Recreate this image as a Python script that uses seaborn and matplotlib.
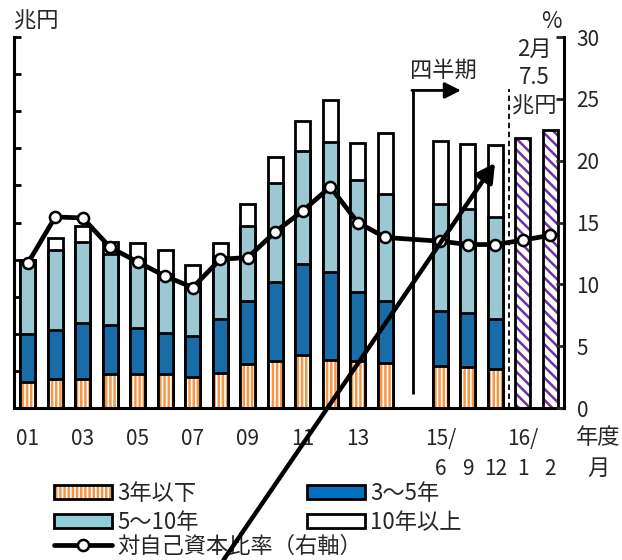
import numpy as np
import pandas as pd
import matplotlib
matplotlib.use("Agg")
import matplotlib.pyplot as plt
from matplotlib.patches import Patch, FancyArrowPatch
from matplotlib.lines import Line2D
import seaborn as sns

# ---- data (兆円 / %) ----
periods = ["01", "02", "03", "04", "05", "06", "07", "08", "09", "10",
           "11", "12", "13", "14", "gap", "15/6", "15/9", "15/12", "16/1", "16/2"]
nan = np.nan
under3y = [0.70, 0.77, 0.79, 0.93, 0.93, 0.93, 0.84, 0.94, 1.19, 1.28,
           1.42, 1.30, 1.27, 1.20, nan, 1.13, 1.11, 1.06, nan, nan]
y3to5 = [1.30, 1.32, 1.51, 1.30, 1.24, 1.10, 1.09, 1.45, 1.69, 2.12,
         2.45, 2.37, 1.86, 1.68, nan, 1.48, 1.46, 1.35, nan, nan]
y5to10 = [1.98, 2.16, 2.18, 1.93, 1.86, 1.59, 1.38, 1.68, 2.03, 2.67,
          3.06, 3.50, 3.01, 2.88, nan, 2.90, 2.79, 2.74, nan, nan]
over10y = [0.00, 0.32, 0.43, 0.31, 0.43, 0.63, 0.54, 0.39, 0.59, 0.70,
           0.81, 1.12, 1.01, 1.64, nan, 1.69, 1.75, 1.93, nan, nan]
monthly_total = [nan] * 18 + [7.28, 7.5]
equity_ratio = [11.7, 15.45, 15.37, 12.98, 11.81, 10.66, 9.74, 12.03, 12.17, 14.24,
                15.94, 17.88, 15.0, 13.79, nan, 13.49, 13.22, 13.22, 13.57, 13.97]

year_labels = ["01", "03", "05", "07", "09", "11", "13", "15/", "16/"]
year_label_pos = [0, 2, 4, 6, 8, 10, 12, 15, 18]
month_labels = ["6", "9", "12", "1", "2"]
month_label_pos = [15, 16, 17, 18, 19]

df = pd.DataFrame({"period": periods, "under3y": under3y, "y3to5": y3to5,
                   "y5to10": y5to10, "over10y": over10y,
                   "monthly": monthly_total, "ratio": equity_ratio})
df["c1"] = df["under3y"]
df["c2"] = df["c1"] + df["y3to5"]
df["c3"] = df["c2"] + df["y5to10"]
df["c4"] = df["c3"] + df["over10y"]

ORANGE = "#F79646"
DBLUE = "#0070C0"
LBLUE = "#92CDDC"
PURPLE = "#7030A0"
EDGE_LW = 2.0
ORANGE_HATCH = "||||"
PURPLE_HATCH = "\\\\\\"

sns.set_style("white")
plt.rcParams["font.family"] = ["Noto Sans CJK JP", "DejaVu Sans"]
plt.rcParams["hatch.linewidth"] = 1.8
FS = 16      # Japanese text
FSN = 15     # numeric tick labels

fig = plt.figure(figsize=(6.22, 5.6), dpi=100)
ax = fig.add_axes([0.0225, 0.2714, 0.8843, 0.6625])

bar_kw = dict(x="period", order=periods, width=0.55, errorbar=None, ax=ax)

# stacked bars: cumulative totals drawn from the top layer down
sns.barplot(data=df, y="c4", color="white", edgecolor="black", linewidth=EDGE_LW, **bar_kw)
sns.barplot(data=df, y="c3", color=LBLUE, edgecolor="black", linewidth=EDGE_LW, **bar_kw)
sns.barplot(data=df, y="c2", color=DBLUE, edgecolor="black", linewidth=EDGE_LW, **bar_kw)
sns.barplot(data=df, y="c1", facecolor="white", edgecolor=ORANGE, hatch=ORANGE_HATCH,
            linewidth=0, **bar_kw)
sns.barplot(data=df, y="c1", facecolor="none", edgecolor="black", linewidth=EDGE_LW, **bar_kw)
# monthly totals (hatched purple)
sns.barplot(data=df, y="monthly", facecolor="white", edgecolor=PURPLE, hatch=PURPLE_HATCH,
            linewidth=0, **bar_kw)
sns.barplot(data=df, y="monthly", facecolor="none", edgecolor="black", linewidth=EDGE_LW, **bar_kw)

n = len(periods)
ax.set_xlim(-0.5, n - 0.5)
ax.set_ylim(0, 10)
ax.set_xlabel("")
ax.set_ylabel("")
ax.set_xticks(np.arange(-0.5, n, 2))
ax.set_xticklabels([])
ax.set_yticks(np.arange(0, 11, 1))
ax.set_yticklabels([])
ax.tick_params(axis="x", direction="out", length=6, width=2, color="black")
ax.tick_params(axis="y", direction="in", length=5, width=2, color="black")
for s in ["left", "bottom"]:
    ax.spines[s].set_linewidth(2.2)
    ax.spines[s].set_color("black")
ax.spines["top"].set_visible(False)
ax.spines["right"].set_visible(False)

# quarterly marker and month separator
q = periods.index("gap")
ax.plot([q, q], [0.37, 8.56], color="black", lw=2, solid_capstyle="butt")
ax.annotate("", xy=(q + 1.75, 8.56), xytext=(q - 0.03, 8.56),
            arrowprops=dict(arrowstyle="-|>,head_length=0.7,head_width=0.35",
                            lw=2, color="black", mutation_scale=14,
                            shrinkA=0, shrinkB=0))
ax.text(q + 1.1, 9.1, "四半期", ha="center", va="center", fontsize=FS)
ax.plot([17.5, 17.5], [0, 8.6], color="black", lw=1.3, ls=(0, (3, 2)))

# right axis: equity ratio
ax2 = ax.twinx()
line_df = df.assign(pos=np.arange(n)).dropna(subset=["ratio"])
sns.lineplot(data=line_df, x="pos", y="ratio", ax=ax2, color="black", lw=3.4,
             marker="o", markersize=8, markerfacecolor="white",
             markeredgecolor="black", markeredgewidth=1.8)
ax2.set_ylim(0, 30)
ax2.set_yticks(np.arange(0, 31, 5))
ax2.set_xlim(-0.5, n - 0.5)
ax2.set_xlabel("")
ax2.set_ylabel("")
ax2.tick_params(axis="y", direction="in", length=6, width=2, pad=9, labelsize=FSN)
for s in ["top", "left", "bottom"]:
    ax2.spines[s].set_visible(False)
ax2.spines["right"].set_linewidth(2.2)
ax2.spines["right"].set_color("black")

# category labels
xform = ax.get_xaxis_transform()
for lab, p in zip(year_labels, year_label_pos):
    ax.text(p, -0.083, lab, transform=xform, ha="center", va="center", fontsize=FSN)
for lab, p in zip(month_labels, month_label_pos):
    ax.text(p, -0.165, lab, transform=xform, ha="center", va="center", fontsize=FSN)
fig.text(598 / 622, 1 - 438 / 560, "年度", ha="center", va="center", fontsize=FS)
fig.text(598 / 622, 1 - 468 / 560, "月", ha="center", va="center", fontsize=FS)

fig.text(14 / 622, 1 - 21 / 560, "兆円", ha="left", va="center", fontsize=FS)
fig.text(562 / 622, 1 - 22 / 560, "%", ha="right", va="center", fontsize=FS)
feb_val = monthly_total[-1]
fig.text(534 / 622, 1 - 49 / 560, "2月", ha="center", va="center", fontsize=FS)
fig.text(534 / 622, 1 - 78 / 560, f"{feb_val}", ha="center", va="center", fontsize=FS)
fig.text(534 / 622, 1 - 106 / 560, "兆円", ha="center", va="center", fontsize=FS)

# legends
def hatched(face, hatch_color, hatch):
    return (Patch(facecolor=face, edgecolor=hatch_color, hatch=hatch, linewidth=0),
            Patch(facecolor="none", edgecolor="black", linewidth=EDGE_LW))

h_under3 = hatched("white", ORANGE, ORANGE_HATCH)
h_3to5 = Patch(facecolor=DBLUE, edgecolor="black", linewidth=EDGE_LW)
h_5to10 = Patch(facecolor=LBLUE, edgecolor="black", linewidth=EDGE_LW)
h_over10 = Patch(facecolor="white", edgecolor="black", linewidth=EDGE_LW)
leg1 = fig.legend([h_under3, h_5to10, h_3to5, h_over10],
                  ["3年以下", "5～10年", "3～5年", "10年以上"],
                  ncol=2, loc="upper left", bbox_to_anchor=(54 / 622, 1 - 482 / 560),
                  frameon=False, fontsize=FS, borderpad=0, borderaxespad=0,
                  handlelength=2.6, handleheight=0.55, handletextpad=0.25,
                  columnspacing=4.87, labelspacing=0.26)
h_line = Line2D([], [], color="black", lw=3.4, marker="o", markersize=8,
                markerfacecolor="white", markeredgecolor="black", markeredgewidth=1.8)
leg2 = fig.legend([h_line], ["対自己資本比率（右軸）"], loc="upper left",
                  bbox_to_anchor=(54 / 622, 1 - 535 / 560), frameon=False,
                  fontsize=FS, borderpad=0, borderaxespad=0,
                  handlelength=2.6, handletextpad=0.25)

# highlight arrow across the figure
arrow = FancyArrowPatch((223.5 / 622, 0.0), (495 / 622, 1 - 163 / 560),
                        transform=fig.transFigure,
                        arrowstyle="-|>,head_length=0.55,head_width=0.3",
                        mutation_scale=20, lw=3.2, color="black",
                        shrinkA=0, shrinkB=0, zorder=20)
fig.add_artist(arrow)

fig.savefig("out.png", dpi=100)
